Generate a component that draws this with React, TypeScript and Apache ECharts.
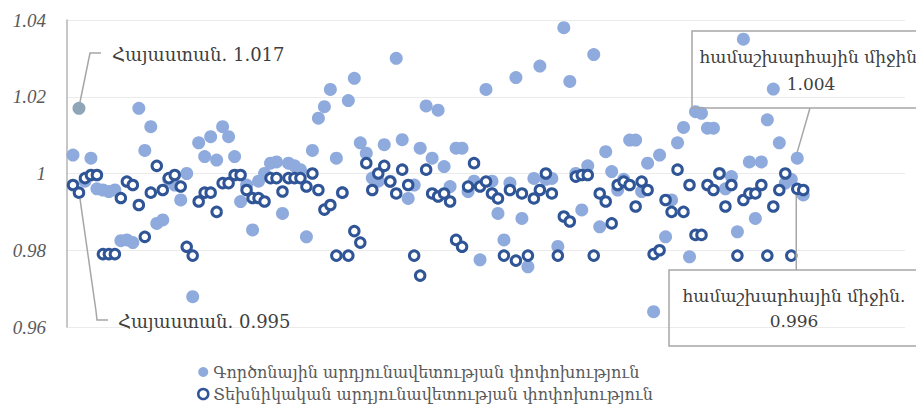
import React, { useEffect, useRef } from "react";
import * as echarts from "echarts";

// Country index along the horizontal axis (one position per country)
const countryIndex: number[] = Array.from({ length: 123 }, (_, i) => i + 1);

// Total factor productivity change (light filled points)
const tfpChange: number[] = [
  1.0048, 1.017, 0.998, 1.004, 0.996, 0.9957, 0.9953, 0.9957, 0.9825, 0.9827,
  0.982, 1.017, 1.006, 1.0122, 0.987, 0.9879, 0.9985, 0.997, 0.9931, 1.0,
  0.9679, 1.008, 1.0044, 1.0096, 1.0035, 1.0122, 1.0096, 1.0044, 0.9927, 0.997,
  0.9853, 0.998, 1.0, 1.0027, 1.003, 0.9896, 1.0027, 1.002, 1.001, 0.9835,
  1.006, 1.0144, 1.0174, 1.0219, 1.004, 0.995, 1.019, 1.0248, 1.008, 1.0053,
  0.9988, 0.998, 1.0075, 0.998, 1.03, 1.0088, 0.9935, 0.997, 1.0066, 1.0176,
  1.004, 1.0165, 1.0018, 0.9966, 1.0066, 1.0066, 0.9953, 0.998, 0.9775, 1.0219,
  0.998, 0.9896, 0.9827, 0.9975, 1.025, 0.9883, 0.9757, 0.9987, 1.028, 0.9985,
  0.9987, 0.981, 1.038, 1.024, 1.0, 0.9905, 1.002, 1.031, 0.9861, 1.0057,
  1.0005, 0.9957, 0.9985, 1.0087, 1.0087, 0.9953, 1.0027, 0.964, 1.0048, 0.9835,
  0.9931, 1.008, 1.012, 0.9783, 1.0161, 1.0157, 1.0118, 1.0118, 1.0, 0.996,
  0.9992, 0.9848, 1.035, 1.003, 0.9883, 1.003, 1.014, 1.022, 1.008, 0.9975,
  0.9985, 1.004, 0.9944,
];

// Technical efficiency change (dark hollow points)
const techEffChange: number[] = [
  0.997, 0.995, 0.9988, 0.9996, 0.9996, 0.979, 0.979, 0.979, 0.9936, 0.9979,
  0.997, 0.9918, 0.9835, 0.995, 1.002, 0.9957, 0.9988, 0.9996, 0.9966, 0.9809,
  0.9786, 0.9927, 0.995, 0.995, 0.99, 0.9975, 0.9975, 0.9996, 0.9996, 0.9957,
  0.9936, 0.9936, 0.9927, 0.9988, 0.9988, 0.9953, 0.9988, 0.9988, 0.9988, 0.9966,
  1.0, 0.9957, 0.9906, 0.9918, 0.9786, 0.995, 0.9786, 0.985, 0.982, 1.0027,
  0.9957, 1.0, 1.002, 0.9979, 0.9948, 1.001, 0.997, 0.9786, 0.9734, 1.001,
  0.9948, 0.994, 0.9948, 0.9927, 0.9827, 0.9809, 0.9966, 1.0027, 0.9966, 0.9979,
  0.9948, 0.9935, 0.9786, 0.9957, 0.9773, 0.9948, 0.9786, 0.9935, 0.9957, 1.0,
  0.9948, 0.9786, 0.9888, 0.9875, 0.9992, 0.9996, 0.9996, 0.9786, 0.9948, 0.9927,
  0.987, 0.997, 0.9979, 0.997, 0.9914, 0.9979, 0.9957, 0.979, 0.98, 0.9931,
  0.99, 1.001, 0.99, 0.997, 0.984, 0.984, 0.997, 0.9957, 1.0, 0.9914,
  0.997, 0.9786, 0.9931, 0.9948, 0.9948, 0.997, 0.9786, 0.9914, 0.9957, 1.0,
  0.9786, 0.996, 0.9957,
];

const seriesNames = [
  "Գործոնային արդյունավետության փոփոխություն",
  "Տեխնիկական արդյունավետության փոփոխություն",
];

const yMin = 0.96;
const yMax = 1.04;
const yStep = 0.02;
const xMax = 140;

const armeniaIdx = 2;
const worldIdx = 122;
const armeniaLabel = "Հայաստան";
const worldLabel = "համաշխարհային միջին";
const armeniaTfpText = "1.017";
const armeniaTeText = "0.995";
const worldTfpText = "1.004";
const worldTeText = "0.996";

const LIGHT = "#8faadc";
const DARK = "#2f5597";
const TEXT = "#404040";
const LEADER = "#a6a6a6";
const FONT = "'DejaVu Serif', 'Liberation Serif', serif";

export default function App() {
  const ref = useRef<HTMLDivElement>(null);

  useEffect(() => {
    if (!ref.current) return;
    const chart = echarts.init(ref.current, undefined, { renderer: "svg" });

    const tfpData = countryIndex.map((x, i) =>
      x === armeniaIdx
        ? { value: [x, tfpChange[i]], itemStyle: { color: "#8fa5b8" } }
        : [x, tfpChange[i]]
    );
    const teData = countryIndex.map((x, i) => [x, techEffChange[i]]);

    chart.setOption({
      animation: false,
      backgroundColor: "#ffffff",
      grid: { left: 67, right: 19, top: 20, bottom: 87, containLabel: false },
      xAxis: {
        type: "value",
        min: 0,
        max: xMax,
        show: true,
        axisLine: { show: false },
        axisTick: { show: false },
        axisLabel: { show: false },
        splitLine: { show: false },
      },
      yAxis: {
        type: "value",
        min: yMin,
        max: yMax,
        interval: yStep,
        axisLine: { show: true, lineStyle: { color: "#b4b4b4", width: 1.5 } },
        axisTick: { show: false },
        splitLine: { show: true, lineStyle: { color: "#ebebeb", width: 1 } },
        axisLabel: {
          margin: 21,
          color: "#595959",
          fontSize: 19,
          fontStyle: "italic",
          fontFamily: "'Liberation Serif', 'DejaVu Serif', serif",
          formatter: (v: number) => String(parseFloat(v.toFixed(2))),
        },
      },
      legend: {
        orient: "vertical",
        left: 192,
        top: 359,
        itemWidth: 10,
        itemHeight: 10,
        itemGap: 6,
        textStyle: { fontSize: 16, lineHeight: 16, color: "#595959", fontFamily: FONT },
        data: [
          { name: seriesNames[0], icon: "circle" },
          { name: seriesNames[1], icon: "circle", itemStyle: { borderWidth: 2.5 } },
        ],
      },
      series: [
        {
          name: seriesNames[0],
          type: "scatter",
          symbol: "circle",
          symbolSize: 13,
          itemStyle: { color: LIGHT, opacity: 1 },
          data: tfpData,
          z: 2,
        },
        {
          name: seriesNames[1],
          type: "scatter",
          symbol: "circle",
          symbolSize: 9.5,
          itemStyle: { color: "#ffffff", borderColor: DARK, borderWidth: 3, opacity: 1 },
          data: teData,
          z: 3,
        },
      ],
    });

    const p = (x: number, y: number) =>
      chart.convertToPixel({ gridIndex: 0 }, [x, y]) as number[];
    const aT = p(armeniaIdx, tfpChange[armeniaIdx - 1]);
    const aE = p(armeniaIdx, techEffChange[armeniaIdx - 1]);
    const wT = p(worldIdx, tfpChange[worldIdx - 1]);
    const wE = p(worldIdx, techEffChange[worldIdx - 1]);

    chart.setOption({
      graphic: [
        {
          type: "polyline",
          shape: { points: [[aT[0] + 1, aT[1] - 6], [90, 53], [101, 53]] },
          style: { stroke: LEADER, lineWidth: 1.5, fill: "none" },
          z: 10,
        },
        {
          type: "text",
          x: 112,
          y: 54,
          style: {
            text: `${armeniaLabel}. ${armeniaTfpText}`,
            fontSize: 18,
            fontFamily: FONT,
            fill: TEXT,
            verticalAlign: "middle",
            align: "left",
          },
          z: 10,
        },
        {
          type: "polyline",
          shape: { points: [[aE[0] + 1, aE[1] + 6], [96, 311], [97, 320], [108, 320]] },
          style: { stroke: LEADER, lineWidth: 1.5, fill: "none" },
          z: 10,
        },
        {
          type: "text",
          x: 118,
          y: 321,
          style: {
            text: `${armeniaLabel}. ${armeniaTeText}`,
            fontSize: 18,
            fontFamily: FONT,
            fill: TEXT,
            verticalAlign: "middle",
            align: "left",
          },
          z: 10,
        },
        {
          type: "rect",
          shape: { x: 692, y: 31, width: 232, height: 77 },
          style: { stroke: LEADER, lineWidth: 1.5, fill: "none" },
          z: 10,
        },
        {
          type: "text",
          x: 811,
          y: 70,
          style: {
            text: `${worldLabel}.\n${worldTfpText}`,
            fontSize: 17,
            lineHeight: 27,
            fontFamily: FONT,
            fill: TEXT,
            align: "center",
            verticalAlign: "middle",
          },
          z: 10,
        },
        {
          type: "line",
          shape: { x1: 810, y1: 108, x2: wT[0], y2: wT[1] - 6 },
          style: { stroke: LEADER, lineWidth: 1.5 },
          z: 10,
        },
        {
          type: "rect",
          shape: { x: 669, y: 270, width: 249, height: 76 },
          style: { stroke: LEADER, lineWidth: 1.5, fill: "none" },
          z: 10,
        },
        {
          type: "text",
          x: 794,
          y: 308,
          style: {
            text: `${worldLabel}.\n${worldTeText}`,
            fontSize: 17,
            lineHeight: 25,
            fontFamily: FONT,
            fill: TEXT,
            align: "center",
            verticalAlign: "middle",
          },
          z: 10,
        },
        {
          type: "line",
          shape: { x1: wE[0] - 1, y1: 270, x2: wE[0] - 1, y2: wE[1] + 6 },
          style: { stroke: LEADER, lineWidth: 1.5 },
          z: 10,
        },
      ],
    });

    return () => chart.dispose();
  }, []);

  return <div ref={ref} style={{ width: 924, height: 414, margin: -8 }} />;
}
